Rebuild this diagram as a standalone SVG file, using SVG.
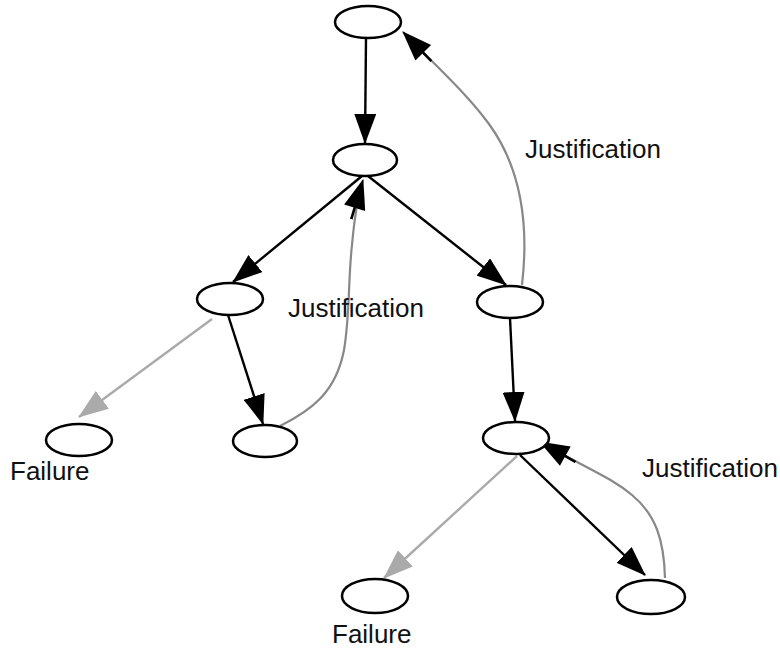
<svg xmlns="http://www.w3.org/2000/svg" width="780" height="650" viewBox="0 0 780 650">
  <style>
    .node { fill: #ffffff; stroke: #000000; stroke-width: 2.5; }
    .edge { fill: none; stroke: #000000; stroke-width: 2.4; }
    .fail { fill: none; stroke: #aaaaaa; stroke-width: 2.4; }
    .just { fill: none; stroke: #888888; stroke-width: 2.2; }
    .label { font-family: "Liberation Sans", Arial, Helvetica, sans-serif; font-size: 26px; fill: #111111; }
  </style>
  <defs>
    <marker id="arrow" viewBox="0 0 30 22" markerWidth="30" markerHeight="22" refX="29" refY="11" orient="auto" markerUnits="userSpaceOnUse">
      <path d="M0,0 L30,11 L0,22 z" fill="#000000"/>
    </marker>
    <marker id="arrow-grey" viewBox="0 0 30 22" markerWidth="30" markerHeight="22" refX="29" refY="11" orient="auto" markerUnits="userSpaceOnUse">
      <path d="M0,0 L30,11 L0,22 z" fill="#aaaaaa"/>
    </marker>
    <!-- justification head: black head with a short dark shaft stub -->
    <marker id="arrow-just" viewBox="0 0 42 22" markerWidth="42" markerHeight="22" refX="41" refY="11" orient="auto" markerUnits="userSpaceOnUse">
      <rect x="0" y="9.7" width="14" height="2.6" fill="#000000"/>
      <path d="M12,0 L42,11 L12,22 z" fill="#000000"/>
    </marker>
  </defs>

  <g id="connectors">
    <!-- tree edges -->
    <line class="edge" x1="366" y1="38" x2="365" y2="143" marker-end="url(#arrow)"/>
    <line class="edge" x1="362" y1="176" x2="233" y2="282" marker-end="url(#arrow)"/>
    <line class="edge" x1="368" y1="176" x2="506" y2="285" marker-end="url(#arrow)"/>
    <line class="edge" x1="228" y1="315" x2="263" y2="424" marker-end="url(#arrow)"/>
    <line class="edge" x1="510" y1="318" x2="515" y2="421" marker-end="url(#arrow)"/>
    <line class="edge" x1="520" y1="455" x2="645" y2="575" marker-end="url(#arrow)"/>
    <!-- failure edges -->
    <line class="fail" x1="212" y1="319" x2="79" y2="417" marker-end="url(#arrow-grey)"/>
    <line class="fail" x1="517" y1="456" x2="384" y2="578" marker-end="url(#arrow-grey)"/>
    <!-- justification back-links -->
    <path class="just" d="M522,285 C529,225 521,168 489,124 C468,95 440,70 403,32" marker-end="url(#arrow-just)"/>
    <path class="just" d="M280,426 C312,410 336,392 344,350 C350,315 348,280 352,245 C354,222 357,200 363,180" marker-end="url(#arrow-just)"/>
    <path class="just" d="M665,578 C664,540 656,515 632,495 C612,478 590,470 540,442" marker-end="url(#arrow-just)"/>
  </g>

  <g id="n-root"><ellipse class="node" cx="368" cy="22" rx="33" ry="16"/></g>
  <g id="n-choice"><ellipse class="node" cx="365" cy="160" rx="32" ry="16"/></g>
  <g id="n-left"><ellipse class="node" cx="230" cy="299" rx="33" ry="16"/></g>
  <g id="n-right"><ellipse class="node" cx="510" cy="302" rx="33" ry="16"/></g>
  <g id="n-left-fail"><ellipse class="node" cx="79" cy="440" rx="33" ry="16"/></g>
  <g id="n-left-leaf"><ellipse class="node" cx="265" cy="441" rx="32" ry="16"/></g>
  <g id="n-right-inner"><ellipse class="node" cx="516" cy="438" rx="33" ry="16"/></g>
  <g id="n-right-fail"><ellipse class="node" cx="375" cy="596" rx="33" ry="17"/></g>
  <g id="n-right-leaf"><ellipse class="node" cx="651" cy="597" rx="34" ry="17"/></g>

  <g id="labels">
    <text class="label" x="525" y="158">Justification</text>
    <text class="label" x="288" y="317">Justification</text>
    <text class="label" x="642" y="477">Justification</text>
    <text class="label" x="10" y="480">Failure</text>
    <text class="label" x="332" y="643">Failure</text>
  </g>
</svg>
